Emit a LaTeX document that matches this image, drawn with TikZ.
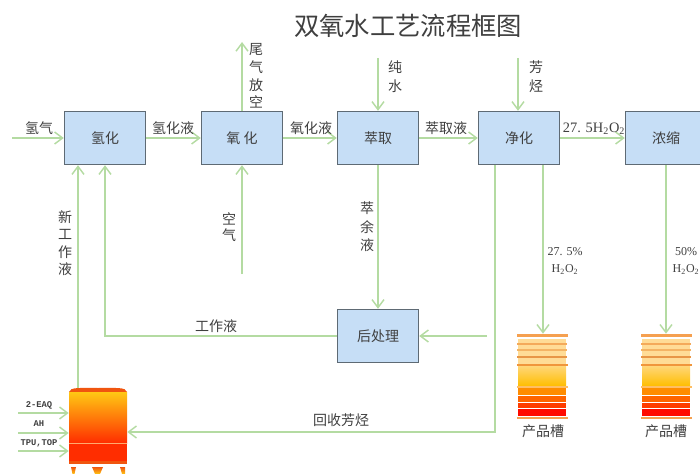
\documentclass[tikz,border=0pt]{standalone}
\usepackage{fontspec}
\setmainfont{Noto Sans CJK SC}
\newfontfamily\latinserif{Liberation Serif}
\newfontfamily\latinmono{Liberation Mono}
\usetikzlibrary{arrows.meta}
\definecolor{flowgreen}{HTML}{B4DBA2}
\definecolor{boxfill}{HTML}{C6DEF6}
\definecolor{boxedge}{HTML}{5E6A74}
\definecolor{inkgray}{HTML}{3F3F3F}
\definecolor{tkA}{RGB}{245,160,80}
\definecolor{tkB}{RGB}{255,220,150}
\definecolor{tkC}{RGB}{244,170,90}
\definecolor{tkD}{RGB}{244,180,100}
\definecolor{tkE}{RGB}{232,150,70}
\definecolor{tkF}{RGB}{240,150,60}
\definecolor{tkG}{RGB}{255,214,120}
\definecolor{tkH}{RGB}{255,190,0}
\definecolor{tkI}{RGB}{255,190,100}
\definecolor{tkJ}{RGB}{255,140,0}
\definecolor{tkK}{RGB}{255,100,0}
\definecolor{tkL}{RGB}{255,60,0}
\definecolor{tkM}{RGB}{255,10,0}
\definecolor{rxTop}{RGB}{255,200,20}
\definecolor{rxMid}{RGB}{255,130,0}
\definecolor{rxLow}{RGB}{255,45,0}
\definecolor{rxCap}{RGB}{240,85,15}
\definecolor{rxRim}{RGB}{255,170,110}
\tikzset{
  x=0.75pt,y=-0.75pt,
  every node/.style={text=inkgray,font=\fontsize{10.5pt}{12pt}\selectfont,inner sep=0pt},
  flow/.style={draw=flowgreen,line width=1.3pt,-{Straight Barb[length=6pt,width=9pt,line width=1.1pt]}},
  unitbox/.style={draw=boxedge,fill=boxfill,line width=0.8pt,minimum width=61pt,minimum height=40pt},
  stack/.style={align=center},
  latinlabel/.style={font=\latinserif\fontsize{9pt}{13pt}\selectfont},
  feedlabel/.style={font=\latinmono\bfseries\fontsize{6.6pt}{7pt}\selectfont},
}
\newcommand{\producttank}[1]{%
  \begin{scope}[shift={(#1,0)}]
    \fill[tkA] (0,334) rectangle (51,337);
    \fill[tkB] (1,339) rectangle (49,365);
    \fill[tkC] (0,343) rectangle (50,345);
    \fill[tkD] (0,349) rectangle (50,351);
    \fill[tkE] (0,356) rectangle (50,358);
    \fill[tkF] (0,364) rectangle (51,366);
    \shade[top color=tkG,bottom color=tkH] (1,366) rectangle (49,386);
    \fill[tkI] (0,386) rectangle (51,388);
    \fill[tkJ] (1,388) rectangle (49,395);
    \fill[tkK] (1,396) rectangle (49,402);
    \fill[tkL] (1,403) rectangle (49,408);
    \fill[tkM] (1,409) rectangle (49,416);
    \fill[tkA] (0,417) rectangle (51,419);
  \end{scope}%
}
\begin{document}
\begin{tikzpicture}
\useasboundingbox (0,0) rectangle (700,474);
\clip (0,0) rectangle (700,474);
% title
\node[font=\fontsize{19pt}{22pt}\selectfont,text=inkgray] (title) at (408,26) {双氧水工艺流程框图};
% unit boxes
\node[unitbox] (hyd) at (105,138) {氢化};
\node[unitbox] (oxi) at (242,138) {氧 化};
\node[unitbox] (ext) at (378,138) {萃取};
\node[unitbox] (pur) at (519,138) {净化};
\node[unitbox] (con) at (666,138) {浓缩};
\node[unitbox] (post) at (378,336) {后处理};
% tanks
\producttank{517}
\producttank{641}
\node[minimum width=38.25pt,minimum height=63.75pt] (tank1) at (543,376.5) {};
\node[minimum width=38.25pt,minimum height=63.75pt] (tank2) at (666,376.5) {};
% reactor
\fill[rxCap] (69,392) .. controls (70,387) and (80,388) .. (98,388) .. controls (116,388) and (126,387) .. (127,392) -- cycle;
\shade[top color=rxTop,middle color=rxMid,bottom color=rxLow] (69,392) rectangle (127,443);
\fill[rxLow] (69,443) rectangle (127,461);
\fill[rxRim] (69,442.5) rectangle (127,443.5);
\fill[rxCap] (69,461) rectangle (127,464);
\shade[top color=rxCap,bottom color=rxTop] (71,467) -- (76,467) -- (74.5,474) -- (72.5,474) -- cycle;
\shade[top color=rxCap,bottom color=rxTop] (92,467) -- (103,467) -- (100,474) -- (95,474) -- cycle;
\shade[top color=rxCap,bottom color=rxTop] (120,467) -- (125,467) -- (125,474) -- (122,474) -- cycle;
\node[minimum width=43.5pt,minimum height=57pt] (reactor) at (98,426) {};
% free-end and alignment coordinates
\coordinate (h2in) at (12,138);
\coordinate (vent) at (242,42);
\coordinate (airin) at (242,274);
\coordinate (waterin) at (378,58);
\coordinate (aromin) at (518,58);
\coordinate (postin) at (487,336);
\coordinate (recyc) at (495,432);
\coordinate (rise) at (78,300);
\coordinate (prodA) at (543,250);
\coordinate (eaq) at (18,413);
\coordinate (ah) at (18,433);
\coordinate (tpu) at (18,451);
% connectors
\draw[flow] (h2in) -- (hyd.west);
\draw[flow] (hyd.east) -- (oxi.west);
\draw[flow] (oxi.east) -- (ext.west);
\draw[flow] (ext.east) -- (pur.west);
\draw[flow] (pur.east) -- (con.west);
\draw[flow] (oxi.north) -- (vent);
\draw[flow] (airin) -- (oxi.south);
\draw[flow] (waterin) -- (ext.north);
\draw[flow] (aromin) -- (pur.north -| aromin);
\draw[flow] (ext.south) -- (post.north);
\draw[flow] (post.west) -| (hyd.south);
\draw[flow] (postin) -- (post.east);
\draw[flow] (pur.south -| recyc) -- (recyc) -- (reactor.east |- recyc);
\draw[flow] (reactor.north -| rise) -- (hyd.south -| rise);
\draw[flow] (pur.south -| prodA) -- (tank1.north);
\draw[flow] (con.south) -- (tank2.north);
\draw[flow] (eaq) -- (reactor.west |- eaq);
\draw[flow] (ah) -- (reactor.west |- ah);
\draw[flow] (tpu) -- (reactor.west |- tpu);
% labels
\node (l1) at (39,128) {氢气};
\node (l2) at (173,128) {氢化液};
\node (l3) at (311,128) {氧化液};
\node (l4) at (446,128) {萃取液};
\node[font=\latinserif\fontsize{10.8pt}{13pt}\selectfont] (l5) at (594,129) {27. 5H\textsubscript{2}O\textsubscript{2}};
\node[stack,font=\fontsize{10.5pt}{13.2pt}\selectfont] (l6) at (256,76) {尾\\气\\放\\空};
\node[stack,font=\fontsize{10.5pt}{14pt}\selectfont] (l7) at (395,77) {纯\\水};
\node[stack,font=\fontsize{10.5pt}{14pt}\selectfont] (l8) at (536,77) {芳\\烃};
\node[stack,font=\fontsize{10.5pt}{12.5pt}\selectfont] (l9) at (229,227) {空\\气};
\node[stack,font=\fontsize{10.5pt}{13pt}\selectfont] (l10) at (65,243) {新\\工\\作\\液};
\node[stack,font=\fontsize{10.5pt}{14pt}\selectfont] (l11) at (367,227) {萃\\余\\液};
\node[latinlabel,stack] (l12) at (565,261) {27. 5\%\\H\textsubscript{2}O\textsubscript{2}};
\node[latinlabel,stack] (l13) at (686,261) {50\%\\H\textsubscript{2}O\textsubscript{2}};
\node (l14) at (216,326) {工作液};
\node (l15) at (341,420) {回收芳烃};
\node (l16) at (543,431) {产品槽};
\node (l17) at (666,431) {产品槽};
\node[feedlabel] (l18) at (39,405) {2-EAQ};
\node[feedlabel] (l19) at (39,424) {AH};
\node[feedlabel] (l20) at (39,443) {TPU,TOP};
\end{tikzpicture}
\end{document}
